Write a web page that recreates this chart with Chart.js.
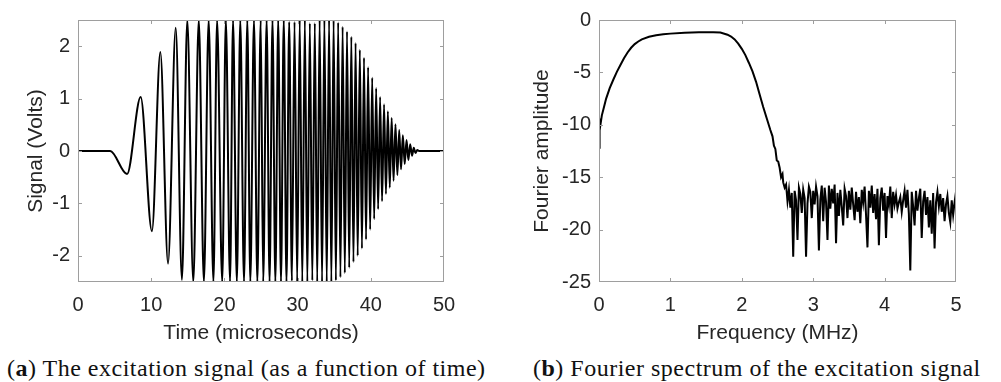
<!DOCTYPE html>
<html><head><meta charset="utf-8">
<script src="https://cdn.jsdelivr.net/npm/chart.js@4/dist/chart.umd.min.js"></script>
<style>
html,body{margin:0;padding:0;background:#fff;}
body{width:1001px;height:382px;overflow:hidden;position:relative;}
canvas{position:absolute;top:0;}
#ca{left:0;}
#cb{left:490px;}
.cap{position:absolute;top:354px;font-family:'Liberation Serif','Times New Roman',serif;font-size:24px;color:#111;white-space:nowrap;letter-spacing:0.5px;line-height:28px;}
</style>
</head><body>
<canvas id="ca" width="480" height="350"></canvas>
<canvas id="cb" width="511" height="350"></canvas>
<div class="cap" style="left:7px">(<b>a</b>) The excitation signal (as a function of time)</div>
<div class="cap" style="left:533px">(<b>b</b>) Fourier spectrum of the excitation signal</div>
<script>
// ---- (a) excitation signal: extrema (time in µs, volts)
const signalTime = [
  0, 4.4, 6.7, 8.56, 10.1, 11.25, 12.3, 13.35, 14.2, 14.93,
  15.75, 16.5, 17.2, 17.85, 18.5, 19.0, 19.7, 20.2, 20.77, 21.18,
  21.7, 22.17, 22.68, 23.13, 23.54, 24.04, 24.5, 24.96, 25.3, 25.77,
  26.17, 26.57, 26.96, 27.35, 27.73, 28.11, 28.48, 28.85, 29.22, 29.58,
  29.94, 30.29, 30.64, 30.99, 31.33, 31.67, 32.01, 32.35, 32.68, 33.01,
  33.34, 33.66, 33.98, 34.30, 34.61, 34.92, 35.23, 35.54, 35.85, 36.15,
  36.45, 36.75, 37.05, 37.34, 37.63, 37.92, 38.21, 38.50, 38.79, 39.07,
  39.35, 39.63, 39.91, 40.19, 40.46, 40.73, 41.00, 41.27, 41.54, 41.81,
  42.07, 42.33, 42.59, 42.85, 43.11, 43.37, 43.63, 43.88, 44.13, 44.38,
  44.63, 44.88, 45.13, 45.38, 45.63, 45.87, 46.11, 46.35, 46.6, 50
];
const signalVolts = [
  0, 0, -0.44, 1.03, -1.53, 1.89, -2.15, 2.35, -2.46, 2.5,
  -2.5, 2.5, -2.5, 2.5, -2.5, 2.5, -2.5, 2.5, -2.5, 2.5,
  -2.5, 2.5, -2.5, 2.5, -2.5, 2.5, -2.5, 2.5, -2.5, 2.5,
  -2.5, 2.5, -2.5, 2.5, -2.5, 2.5, -2.5, 2.46, -2.48, 2.46,
  -2.5, 2.5, -2.5, 2.5, -2.5, 2.44, -2.47, 2.44, -2.5, 2.5,
  -2.5, 2.5, -2.5, 2.5, -2.5, 2.49, -2.47, 2.45, -2.41, 2.37,
  -2.33, 2.28, -2.23, 2.18, -2.12, 2.06, -2.0, 1.93, -1.86, 1.78,
  -1.69, 1.6, -1.5, 1.4, -1.3, 1.2, -1.11, 1.03, -0.96, 0.89,
  -0.82, 0.76, -0.7, 0.63, -0.57, 0.51, -0.46, 0.4, -0.35, 0.3,
  -0.25, 0.21, -0.17, 0.13, -0.09, 0.06, -0.04, 0.02, 0, 0
];
const timeTicks = [0, 10, 20, 30, 40, 50];
const voltTicks = [-2, -1, 0, 1, 2];

// ---- (b) Fourier spectrum (MHz, amplitude)
const passbandFreq = [
  0, 0.008, 0.02, 0.04, 0.07, 0.1, 0.15, 0.2, 0.25, 0.3,
  0.35, 0.4, 0.45, 0.5, 0.55, 0.6, 0.7, 0.8, 0.9, 1.0,
  1.2, 1.4, 1.6, 1.7, 1.8, 1.85, 1.9, 1.95, 2.0, 2.05,
  2.1, 2.15, 2.2, 2.25, 2.3, 2.35, 2.4, 2.43, 2.45, 2.47,
  2.49, 2.51, 2.53, 2.55, 2.57, 2.58
];
const passbandAmp = [
  -12.2, -9.6, -10.0, -9.1, -8.3, -7.5, -6.5, -5.7, -4.95, -4.3,
  -3.65, -3.1, -2.65, -2.3, -2.05, -1.85, -1.6, -1.45, -1.37, -1.3,
  -1.22, -1.18, -1.16, -1.2, -1.4, -1.58, -1.85, -2.25, -2.75, -3.35,
  -4.1, -4.9, -5.9, -7.1, -8.3, -9.4, -10.5, -11.1, -12.0, -12.3,
  -13.4, -13.5, -14.1, -15.0, -14.7, -15.5
];
const noiseFreq = [
  2.60, 2.62, 2.64, 2.66, 2.68, 2.70, 2.72, 2.74, 2.76, 2.78,
  2.80, 2.82, 2.84, 2.86, 2.88, 2.90, 2.92, 2.94, 2.96, 2.98,
  3.00, 3.02, 3.04, 3.06, 3.08, 3.10, 3.12, 3.14, 3.16, 3.18,
  3.20, 3.22, 3.24, 3.26, 3.28, 3.30, 3.32, 3.34, 3.36, 3.38,
  3.40, 3.42, 3.44, 3.46, 3.48, 3.50, 3.52, 3.54, 3.56, 3.58,
  3.60, 3.62, 3.64, 3.66, 3.68, 3.70, 3.72, 3.74, 3.76, 3.78,
  3.80, 3.82, 3.84, 3.86, 3.88, 3.90, 3.92, 3.94, 3.96, 3.98,
  4.00, 4.02, 4.04, 4.06, 4.08, 4.10, 4.12, 4.14, 4.16, 4.18,
  4.20, 4.22, 4.24, 4.26, 4.28, 4.30, 4.32, 4.34, 4.36, 4.38,
  4.40, 4.42, 4.44, 4.46, 4.48, 4.50, 4.52, 4.54, 4.56, 4.58,
  4.60, 4.62, 4.64, 4.66, 4.68, 4.70, 4.72, 4.74, 4.76, 4.78,
  4.80, 4.82, 4.84, 4.86, 4.88, 4.90, 4.92, 4.94, 4.96, 4.98,
  5.00
];
const noiseAmp = [
  -16.0, -15.7, -17.3, -16.2, -17.9, -16.5, -22.6, -16.3, -17.2, -21.0,
  -16.0, -16.6, -18.4, -16.2, -17.0, -22.6, -17.5, -15.9, -16.4, -18.9,
  -16.3, -17.6, -15.9, -16.8, -22.0, -17.1, -15.8, -19.2, -16.0, -17.4,
  -21.0, -15.8, -18.0, -16.1, -17.5, -15.7, -21.3, -16.5, -18.7, -16.2,
  -17.8, -19.6, -16.1, -16.8, -18.9, -16.3, -18.1, -16.0, -17.6, -19.1,
  -16.4, -18.3, -16.9, -19.4, -16.2, -17.4, -15.9, -18.6, -21.7, -16.3,
  -17.9, -15.8, -18.4, -16.6, -19.0, -16.1, -21.5, -17.0, -16.0, -18.2,
  -16.5, -20.8, -16.8, -17.7, -15.9, -18.9, -16.4, -17.6, -16.7, -18.0,
  -17.4, -16.9, -18.3, -17.2, -16.3, -17.9, -16.2, -18.5, -23.9, -16.4,
  -17.8, -19.6, -16.3, -18.2, -17.0, -16.1, -20.8, -17.3, -16.3, -18.6,
  -16.9, -19.8, -17.2, -20.4, -16.5, -21.8, -17.4, -16.4, -17.8, -16.6,
  -18.3, -17.0, -19.2, -17.6, -16.8, -18.4, -19.3, -17.2, -18.6, -17.4,
  -16.4
];
const freqTicks = [0, 1, 2, 3, 4, 5];
const ampTicks = [-25, -20, -15, -10, -5, 0];

// ---- shared styling
const TXT = '#262626';
const SANS = "'Liberation Sans', Arial, Helvetica, sans-serif";
const frame = {
  id: 'frame',
  afterDatasetsDraw(chart) {
    const {ctx, chartArea: a, scales: {x, y}} = chart;
    ctx.save();
    ctx.strokeStyle = '#9e9e9e';
    ctx.lineWidth = 1;
    ctx.beginPath();
    x.ticks.forEach(t => {
      const p = Math.round(x.getPixelForValue(t.value)) + 0.5;
      if (p < a.left + 2 || p > a.right - 2) return;
      ctx.moveTo(p, a.bottom); ctx.lineTo(p, a.bottom - 4);
      ctx.moveTo(p, a.top); ctx.lineTo(p, a.top + 4);
    });
    y.ticks.forEach(t => {
      const p = Math.round(y.getPixelForValue(t.value)) + 0.5;
      if (p < a.top + 2 || p > a.bottom - 2) return;
      ctx.moveTo(a.left, p); ctx.lineTo(a.left + 4, p);
      ctx.moveTo(a.right, p); ctx.lineTo(a.right - 4, p);
    });
    ctx.stroke();
    ctx.strokeRect(Math.round(a.left) + 0.5, Math.round(a.top) + 0.5,
                   Math.round(a.right - a.left) - 1, Math.round(a.bottom - a.top) - 1);
    ctx.restore();
  }
};

function axisX(min, max, ticks, title) {
  return {
    type: 'linear', min, max,
    afterBuildTicks: s => { s.ticks = ticks.map(v => ({value: v})); },
    afterFit: s => { s.height = 68; },
    grid: {display: false, drawTicks: false},
    border: {display: false},
    ticks: {color: TXT, font: {family: SANS, size: 20}, padding: 11, maxRotation: 0},
    title: {display: true, text: title, color: TXT, font: {family: SANS, size: 21}, padding: {top: 0, bottom: 4}}
  };
}
function axisY(min, max, ticks, title, width, titlePad) {
  return {
    type: 'linear', min, max,
    afterBuildTicks: s => { s.ticks = ticks.map(v => ({value: v})); },
    afterFit: s => { s.width = width; },
    grid: {display: false, drawTicks: false},
    border: {display: false},
    ticks: {color: TXT, font: {family: SANS, size: 20}, padding: 8},
    title: {display: true, text: title, color: TXT, font: {family: SANS, size: 21}, padding: {top: titlePad, bottom: 0}}
  };
}
function makeChart(id, pts, mono, xs, ys, padRight) {
  return new Chart(document.getElementById(id), {
    type: 'line',
    data: {datasets: [{
      data: pts, borderColor: '#000', borderWidth: 2, pointRadius: 0,
      fill: false, clip: 0,
      cubicInterpolationMode: mono ? 'monotone' : 'default', tension: 0
    }]},
    options: {
      responsive: false, animation: false, devicePixelRatio: 1,
      layout: {padding: {top: 17, right: padRight, left: 0, bottom: 0}},
      plugins: {legend: {display: false}, tooltip: {enabled: false}},
      scales: {x: xs, y: ys}
    },
    plugins: [frame]
  });
}

const sigPts = signalTime.map((t, i) => ({x: t, y: signalVolts[i]}));
const specFreq = passbandFreq.concat(noiseFreq);
const specAmp = passbandAmp.concat(noiseAmp);
const specPts = specFreq.map((f, i) => ({x: f, y: specAmp[i]}));

makeChart('ca', sigPts, true,
  axisX(0, 50, timeTicks, 'Time (microseconds)'),
  axisY(-2.5, 2.5, voltTicks, 'Signal (Volts)', 78, 24), 36);
makeChart('cb', specPts, false,
  axisX(0, 5, freqTicks, 'Frequency (MHz)'),
  axisY(-25, 0, ampTicks, 'Fourier amplitude', 109, 40), 45);
</script>
</body></html>
